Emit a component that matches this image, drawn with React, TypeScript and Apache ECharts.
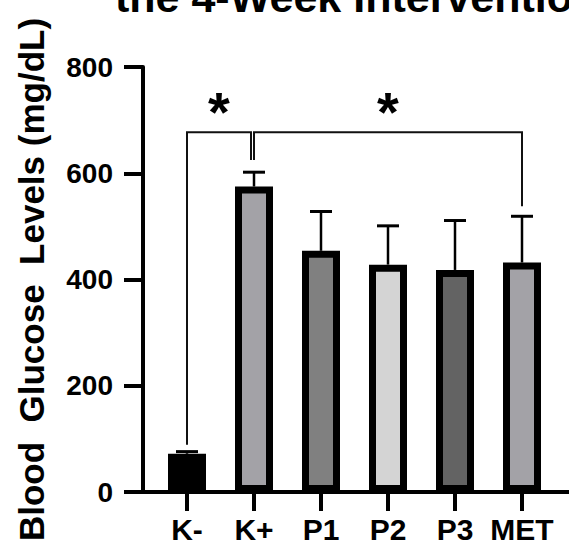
import React, { useEffect, useRef } from "react";
import * as echarts from "echarts";

const categories = ["K-", "K+", "P1", "P2", "P3", "MET"];
const meanValues = [72, 575, 454, 428, 418, 432];
const sdValues = [4, 27, 74, 73, 93, 87];
const barColors = ["#000000", "#a3a2a7", "#808080", "#d4d4d4", "#636363", "#a3a2a7"];
const yMin = 0;
const yMax = 800;
const yInterval = 200;
const yAxisTitle = "Blood  Glucose  Levels (mg/dL)";
const titleText = "the 4-Week Intervention";
// significance brackets: [fromIndex, toIndex, topValue, leftLegEnd, rightLegEnd]
const bracketFrom = [0, 1];
const bracketTo = [1, 5];
const bracketTop = [677, 677];
const bracketLeftEnd = [89, 625];
const bracketRightEnd = [625, 538];
const bracketLabels = ["*", "*"];
const starValue = 717;

const FONT = "'Liberation Sans', Arial, Helvetica, sans-serif";
const LEG_NUDGE = [
  [0, -3],
  [0, 0],
];

export default function App() {
  const ref = useRef<HTMLDivElement>(null);
  useEffect(() => {
    if (!ref.current) return;
    const chart = echarts.init(ref.current, null, { renderer: "svg" });
    const option: any = {
      animation: false,
      backgroundColor: "#ffffff",
      grid: [
        { left: 153.5, right: 13.5, top: 67, bottom: 56 },
        { left: 141, right: 0, top: 67, bottom: 56 },
      ],
      graphic: [
        {
          type: "text",
          x: 115,
          y: 18,
          style: {
            text: titleText,
            fontSize: 43,
            fontWeight: "bold",
            fontFamily: FONT,
            fill: "#000",
            verticalAlign: "bottom",
            align: "left",
          },
        },
      ],
      xAxis: [
        {
          type: "category",
          gridIndex: 0,
          data: categories,
          axisLine: { show: false },
          axisTick: {
            show: true,
            alignWithLabel: true,
            length: 19,
            lineStyle: { color: "#000", width: 4 },
          },
          axisLabel: {
            interval: 0,
            color: "#000",
            fontSize: 30,
            fontWeight: "bold",
            fontFamily: FONT,
            margin: 22,
          },
          splitLine: { show: false },
        },
        {
          type: "value",
          gridIndex: 1,
          min: 0,
          max: 1,
          axisLine: { show: true, lineStyle: { color: "#000", width: 4 } },
          axisTick: { show: false },
          axisLabel: { show: false },
          splitLine: { show: false },
        },
      ],
      yAxis: [
        {
          type: "value",
          gridIndex: 0,
          min: yMin,
          max: yMax,
          interval: yInterval,
          offset: 10.5,
          axisLine: { show: true, lineStyle: { color: "#000", width: 4 } },
          axisTick: { show: true, length: 19, lineStyle: { color: "#000", width: 4 } },
          axisLabel: {
            color: "#000",
            fontSize: 28,
            fontWeight: "bold",
            fontFamily: FONT,
            margin: 30,
          },
          splitLine: { show: false },
          name: yAxisTitle,
          nameLocation: "middle",
          nameGap: 94,
          nameRotate: 90,
          nameTextStyle: {
            color: "#000",
            fontSize: 35,
            fontWeight: "bold",
            fontFamily: FONT,
          },
        },
        {
          type: "value",
          gridIndex: 1,
          show: false,
          min: 0,
          max: 1,
        },
      ],
      series: [
        {
          type: "bar",
          xAxisIndex: 0,
          yAxisIndex: 0,
          barWidth: 38,
          data: meanValues.map((v, i) => ({
            value: v,
            itemStyle: { color: barColors[i], borderColor: "#000", borderWidth: 7 },
          })),
          z: 2,
        },
        {
          type: "custom",
          xAxisIndex: 0,
          yAxisIndex: 0,
          z: 3,
          encode: { x: 0, y: 1 },
          data: meanValues.map((v, i) => [i, v, sdValues[i]]),
          renderItem: (params: any, api: any) => {
            const x = api.value(0);
            const v = api.value(1);
            const e = api.value(2);
            const base = api.coord([x, v]);
            const top = api.coord([x, v + e]);
            return {
              type: "group",
              children: [
                {
                  type: "line",
                  shape: { x1: base[0], y1: base[1], x2: top[0], y2: top[1] },
                  style: { stroke: "#000", lineWidth: 2.5 },
                },
                {
                  type: "line",
                  shape: { x1: top[0] - 11, y1: top[1], x2: top[0] + 11, y2: top[1] },
                  style: { stroke: "#000", lineWidth: 3 },
                },
              ],
            };
          },
        },
        {
          type: "custom",
          xAxisIndex: 0,
          yAxisIndex: 0,
          z: 4,
          encode: { x: 0, y: 2 },
          data: bracketFrom.map((f, i) => [
            f,
            bracketTo[i],
            bracketTop[i],
            bracketLeftEnd[i],
            bracketRightEnd[i],
          ]),
          renderItem: (params: any, api: any) => {
            const i = params.dataIndex;
            const f = api.value(0);
            const t = api.value(1);
            const topV = api.value(2);
            const le = api.value(3);
            const re = api.value(4);
            const pL = api.coord([f, topV]);
            const pR = api.coord([t, topV]);
            const pLe = api.coord([f, le]);
            const pRe = api.coord([t, re]);
            const star = api.coord([(f + t) / 2, starValue]);
            const xl = pL[0] + LEG_NUDGE[i][0];
            const xr = pR[0] + LEG_NUDGE[i][1];
            return {
              type: "group",
              children: [
                {
                  type: "polyline",
                  shape: {
                    points: [
                      [xl, pLe[1]],
                      [xl, pL[1]],
                      [xr, pR[1]],
                      [xr, pRe[1]],
                    ],
                  },
                  style: { stroke: "#111", lineWidth: 2, fill: "none" },
                },
                {
                  type: "text",
                  x: (xl + xr) / 2,
                  y: star[1],
                  style: {
                    text: bracketLabels[i],
                    fontSize: 56,
                    fontWeight: "bold",
                    fontFamily: FONT,
                    fill: "#000",
                    align: "center",
                    verticalAlign: "middle",
                  },
                },
              ],
            };
          },
        },
      ],
    };
    chart.setOption(option);
    return () => chart.dispose();
  }, []);
  return (
    <div
      ref={ref}
      style={{ position: "absolute", left: 0, top: 0, width: 569, height: 548 }}
    />
  );
}
